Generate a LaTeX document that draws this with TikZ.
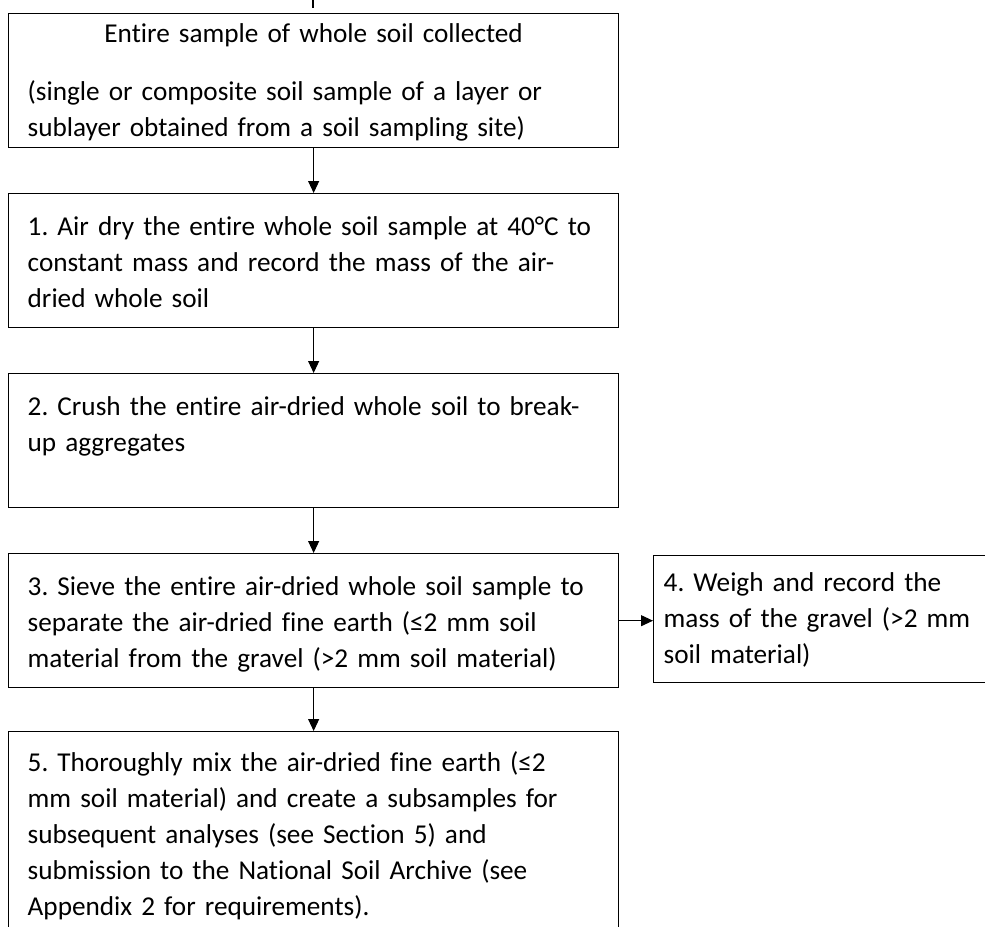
\documentclass[tikz,border=0pt]{standalone}
\usepackage{fontspec}
\setmainfont{Carlito}[Ligatures=NoCommon]
\usetikzlibrary{positioning}
\usetikzlibrary{arrows.meta}
\tikzset{
    stepbox/.style = {rectangle, draw=black, line width=0.8pt, align=left, anchor=north west, inner xsep=0.38cm, inner ysep=0pt, text width=11.44cm, text height=0.84cm, text depth=1.84cm, font=\fontsize{15.5}{20.5}\selectfont\frenchspacing, text=black},
    flowarrow/.style = {-{Triangle[width=0.22cm,length=0.24cm]}, line width=0.6pt, black},
}

\begin{document}
\begin{tikzpicture}[x=0.02cm, y=-0.02cm]
\useasboundingbox (0,0) rectangle (985,927);
\coordinate (cut) at (313,0);
%
\node[stepbox, text height=0.58cm, text depth=2.1cm] at (8,13) (s0) {\makebox[\hsize]{Entire sample of whole soil collected}\\[0.44cm]
(single or composite soil sample of a layer or\\ sublayer obtained from a soil sampling site)};
\node[stepbox] at (8,193) (s1) {1. Air dry the entire whole soil sample at 40°C to\\ constant mass and record the mass of the air-\\ dried whole soil};
\node[stepbox] at (8,373) (s2) {2. Crush the entire air-dried whole soil to break-\\ up aggregates};
\node[stepbox] at (8,553) (s3) {3. Sieve the entire air-dried whole soil sample to\\ separate the air-dried fine earth (≤2 mm soil\\ material from the gravel (>2 mm soil material)};
\node[stepbox, inner xsep=0.2cm, text width=6.4cm, text height=0.72cm, text depth=1.82cm] at (653,555) (s4) {4. Weigh and record the\\ mass of the gravel (>2 mm\\ soil material)};
\node[stepbox, text height=0.8cm, text depth=4cm] at (8,731) (s5) {5. Thoroughly mix the air-dried fine earth (≤2\\ mm soil material) and create a subsamples for\\ subsequent analyses (see Section 5) and\\ submission to the National Soil Archive (see\\ Appendix 2 for requirements).};
%
\draw[line width=0.6pt] (cut) -- ++(0,8);
\draw[flowarrow] (s0.south) -- (s1.north);
\draw[flowarrow] (s1.south) -- (s2.north);
\draw[flowarrow] (s2.south) -- (s3.north);
\draw[flowarrow] (s3.east) -- (s3.east -| s4.west);
\draw[flowarrow] (s3.south) -- (s5.north);
\end{tikzpicture}
\end{document}
